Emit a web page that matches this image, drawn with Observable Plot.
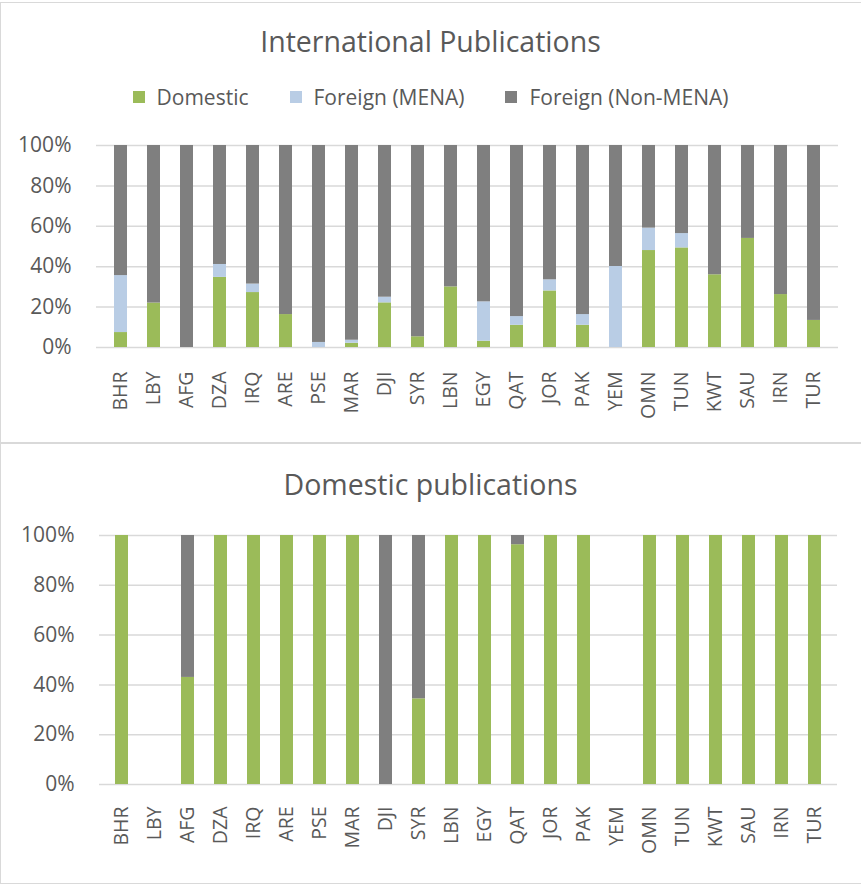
<!DOCTYPE html>
<html><head><meta charset="utf-8">
<script src="https://cdn.jsdelivr.net/npm/d3@7"></script>
<script src="https://cdn.jsdelivr.net/npm/@observablehq/plot@0.6"></script>
<style>
body{margin:0;background:#fff;font-family:"Open Sans",sans-serif;color:#595959;}
#wrap{position:relative;width:861px;height:887px;overflow:hidden;}
.panel{position:absolute;left:0;width:875px;border:1.5px solid #d9d9d9;box-sizing:border-box;}
.title{position:absolute;left:0;width:861px;text-align:center;font-size:28.5px;line-height:1;white-space:nowrap;}
.legend{position:absolute;left:0;width:861px;height:24px;line-height:24px;display:flex;justify-content:center;align-items:center;gap:41px;font-size:21px;}
.legend .item{display:flex;align-items:center;}
.legend .sw{display:inline-block;width:12px;height:12px;margin-right:12px;}
.chart{position:absolute;left:0;}
</style></head>
<body>
<div id="wrap">
  <div class="panel" style="top:2px;height:441.5px"></div>
  <div class="panel" style="top:442px;height:442px"></div>
  <div class="title" style="top:27px">International Publications</div>
  <div class="legend" id="legend" style="top:85px"></div>
  <div class="chart" id="c1" style="top:120px"></div>
  <div class="title" style="top:470px">Domestic publications</div>
  <div class="chart" id="c2" style="top:510px"></div>
</div>
<script>
const countries = ["BHR","LBY","AFG","DZA","IRQ","ARE","PSE","MAR","DJI","SYR","LBN","EGY","QAT","JOR","PAK","YEM","OMN","TUN","KWT","SAU","IRN","TUR"];
const seriesNames = ["Domestic","Foreign (MENA)","Foreign (Non-MENA)"];
const seriesColors = ["#9BBB59","#B9CDE5","#7F7F7F"];
const yTicks = [0,20,40,60,80,100];

// International publications (% shares)
const intlDomestic      = [7.4,22,0,34.7,27.2,16.3,0,2.1,22.1,5.3,30,3.1,11,28,11,0,48,49.3,36,54,26.2,13.4];
const intlForeignMENA   = [28.2,0,0,6.4,4.2,0,2.5,1.5,2.8,0,0,19.5,4.3,5.5,5.3,40.1,11.1,7.1,0,0,0,0];
const intlForeignNonMENA= [64.4,78,100,58.9,68.6,83.7,97.5,96.4,75.1,94.7,70,77.4,84.7,66.5,83.7,59.9,40.9,43.6,64,46,73.8,86.6];

// Domestic publications (% shares); null = no data
const domDomestic       = [100,null,43,100,100,100,100,100,0,34.4,100,100,96.3,100,100,null,100,100,100,100,100,100];
const domForeignMENA    = [0,null,0,0,0,0,0,0,0,0,0,0,0,0,0,null,0,0,0,0,0,0];
const domForeignNonMENA = [0,null,57,0,0,0,0,0,100,65.6,0,0,3.7,0,0,null,0,0,0,0,0,0];

function toRows(arrs){
  const rows = [];
  countries.forEach((c,i)=>{
    arrs.forEach((a,j)=>{
      if (a[i] != null) rows.push({country:c, series:seriesNames[j], value:a[i]});
    });
  });
  return rows;
}

function makeChart(rows, o){
  return Plot.plot({
    width: 861, height: o.height,
    marginLeft: o.ml, marginRight: o.mr, marginTop: o.mt, marginBottom: o.mb,
    style: {fontFamily: "Open Sans", fontSize: "20px", color: "#595959", background: "transparent"},
    x: {domain: countries, paddingInner: 0.6, paddingOuter: 0.3, label: null},
    y: {domain: [0,100], label: null},
    color: {domain: seriesNames, range: seriesColors},
    marks: [
      Plot.gridY(yTicks, {stroke: "#d9d9d9", strokeOpacity: 1, strokeWidth: 1.5}),
      Plot.barY(rows, {x: "country", y: "value", z: "series", fill: "series", order: seriesNames, inset: 0}),
      Plot.axisY(yTicks, {tickSize: 0, tickPadding: 25, tickFormat: d => d + "%", fontSize: 21, label: null}),
      Plot.axisX({tickSize: 0, tickRotate: -90, tickPadding: o.xpad, fontSize: 19.5, label: null})
    ]
  });
}

document.getElementById("c1").appendChild(makeChart(
  toRows([intlDomestic, intlForeignMENA, intlForeignNonMENA]),
  {height: 310, ml: 96, mr: 23, mt: 25, mb: 83, xpad: 24}));
document.getElementById("c2").appendChild(makeChart(
  toRows([domDomestic, domForeignMENA, domForeignNonMENA]),
  {height: 370, ml: 99, mr: 24, mt: 25, mb: 96, xpad: 22}));

const lg = document.getElementById("legend");
seriesNames.forEach((n,i)=>{
  const it = document.createElement("div"); it.className = "item";
  const sw = document.createElement("span"); sw.className = "sw"; sw.style.background = seriesColors[i];
  it.appendChild(sw); it.appendChild(document.createTextNode(n));
  lg.appendChild(it);
});
</script>
</body></html>
